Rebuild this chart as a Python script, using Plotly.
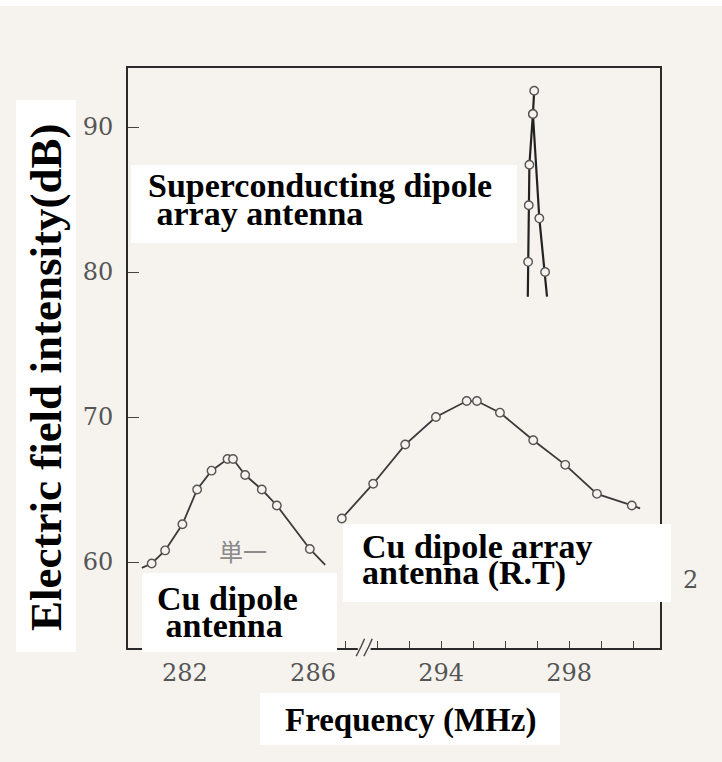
import plotly.graph_objects as go

# ---------------- data ----------------
# Cu dipole antenna (left part of the broken frequency axis)
cu_freq = [280.96, 281.38, 281.92, 282.38, 282.83, 283.33, 283.50, 283.88, 284.40, 284.87, 285.90]
cu_db = [59.9, 60.8, 62.6, 65.0, 66.3, 67.1, 67.1, 66.0, 65.0, 63.9, 60.9]
cu_line_start = (280.65, 59.6)
cu_line_end = (286.38, 59.8)

# Cu dipole array antenna (R.T) (right part of the broken axis)
arr_freq = [290.90, 291.88, 292.88, 293.84, 294.80, 295.12, 295.84, 296.88, 297.88, 298.87, 299.96]
arr_db = [63.0, 65.4, 68.1, 70.0, 71.1, 71.1, 70.3, 68.4, 66.7, 64.7, 63.9]
arr_line_end = (300.22, 63.7)

# Superconducting dipole array antenna (narrow resonance)
sc_freq = [296.72, 296.74, 296.76, 296.87, 296.91, 296.87, 297.07, 297.25]
sc_db = [80.7, 84.6, 87.4, 90.9, 92.5, 90.9, 83.7, 80.0]
sc_line_start = (296.71, 78.3)
sc_line_end = (297.31, 78.3)

# axis
BREAK_SHIFT = 4.0          # 287..293 MHz is cut out of the axis (shown as a break)
BREAK_AT = 287.6           # axis position of the break mark
left_ticks = [281, 282, 283, 284, 285, 286, 287]
right_ticks = [292, 293, 294, 295, 296, 297, 298, 299, 300]
labelled = [282, 286, 294, 298]
y_ticks = [60, 70, 80, 90]
X_RANGE = [280.22, 296.84]
Y_RANGE = [54.07, 94.07]

# ---------------- layout geometry ----------------
W, H = 722, 762
L, R, T, B = 128, 62, 68, 114
PW, PH = W - L - R, H - T - B
PAPER = "#f6f3ee"


def xp(px):
    return (px - L) / PW


def yp(py):
    return (H - B - py) / PH


def shift(vals):
    return [v - BREAK_SHIFT for v in vals]


fig = go.Figure()

line_style = dict(color="#3a3a3a", width=1.8)
marker_style = dict(symbol="circle", size=8.5, color=PAPER, line=dict(color="#555555", width=1.4))

# Cu dipole antenna
fig.add_trace(go.Scatter(
    x=[cu_line_start[0]] + cu_freq + [cu_line_end[0]],
    y=[cu_line_start[1]] + cu_db + [cu_line_end[1]],
    mode="lines", line=line_style, hoverinfo="skip", showlegend=False))
fig.add_trace(go.Scatter(x=cu_freq, y=cu_db, mode="markers", marker=marker_style,
                         showlegend=False, name="Cu dipole antenna"))

# Cu dipole array antenna
fig.add_trace(go.Scatter(
    x=shift(arr_freq + [arr_line_end[0]]),
    y=arr_db + [arr_line_end[1]],
    mode="lines", line=line_style, hoverinfo="skip", showlegend=False))
fig.add_trace(go.Scatter(x=shift(arr_freq), y=arr_db, mode="markers", marker=marker_style,
                         showlegend=False, name="Cu dipole array antenna (R.T)"))

# Superconducting dipole array antenna
fig.add_trace(go.Scatter(
    x=shift([sc_line_start[0]] + sc_freq + [sc_line_end[0]]),
    y=[sc_line_start[1]] + sc_db + [sc_line_end[1]],
    mode="lines", line=dict(color="#222222", width=2.2), hoverinfo="skip", showlegend=False))
fig.add_trace(go.Scatter(x=shift(sc_freq), y=sc_db, mode="markers", marker=marker_style,
                         showlegend=False, name="Superconducting dipole array antenna"))

# ticks
tickvals = left_ticks + shift(right_ticks)
ticktext = [str(t) if t in labelled else "" for t in left_ticks + right_ticks]

tick_font = dict(family="DejaVu Serif", size=24, color="#555555")
fig.update_xaxes(range=X_RANGE, showgrid=False, zeroline=False,
                 showline=True, mirror=True, linecolor="#2a2a2a", linewidth=2,
                 ticks="inside", ticklen=7, tickwidth=1.4, tickcolor="#444444",
                 tickvals=tickvals, ticktext=ticktext, tickfont=tick_font,
                 ticklabelstandoff=2)
fig.update_yaxes(range=Y_RANGE, showgrid=False, zeroline=False,
                 showline=True, mirror=True, linecolor="#2a2a2a", linewidth=2,
                 ticks="inside", ticklen=11, tickwidth=1.4, tickcolor="#444444",
                 tickvals=y_ticks, tickfont=tick_font, ticklabelstandoff=8)

# ---------------- overlays: white label boxes, break mark ----------------
shapes = []


def white_box(x0, y0, x1, y1):
    shapes.append(dict(type="rect", xref="paper", yref="paper", layer="above",
                       x0=xp(x0), x1=xp(x1), y0=yp(y1), y1=yp(y0),
                       fillcolor="white", line=dict(width=0)))


white_box(0, 0, W, 6)          # scan border
white_box(16, 100, 76, 652)     # y title
white_box(131, 165, 517, 243)   # superconducting label
white_box(142, 573, 337, 652)   # Cu dipole label
white_box(343, 524, 671, 602)   # Cu array label
white_box(260, 693, 560, 745)   # x title

# axis break mark
shapes.append(dict(type="rect", xref="x", yref="paper", layer="above",
                   x0=BREAK_AT - 0.2, x1=BREAK_AT + 0.2, y0=-0.006, y1=0.006,
                   fillcolor=PAPER, line=dict(width=0)))
for dx in (-0.12, 0.12):
    shapes.append(dict(type="path", xref="x", yref="paper", layer="above",
                       path=(f"M {BREAK_AT + dx - 0.13},{-0.014} "
                             f"Q {BREAK_AT + dx - 0.02},{-0.002} {BREAK_AT + dx},{0.0} "
                             f"Q {BREAK_AT + dx + 0.02},{0.002} {BREAK_AT + dx + 0.13},{0.016}"),
                       line=dict(color="#444444", width=1.4)))

annotations = []


def text(s, px, py, xanchor="left", size=34, angle=0, color="black", family="Liberation Serif", weight="bold"):
    annotations.append(dict(text=s, xref="paper", yref="paper", x=xp(px), y=yp(py),
                            xanchor=xanchor, yanchor="middle", showarrow=False,
                            textangle=angle,
                            font=dict(family=family, size=size, color=color, weight=weight)))


text("Superconducting dipole", 146, 186)
text(" array antenna", 146, 214)
text("Cu dipole", 155, 598)
text(" antenna", 155, 625)
text("Cu dipole array", 360, 546)
text("antenna (R.T)", 360, 573)
text("Frequency (MHz)", 410, 720, xanchor="center", size=33)
text("Electric field intensity(dB)", 46, 378, xanchor="center", size=45, angle=-90)
text("単一", 243, 550, xanchor="center", size=24, color="#8a8a8a",
     family="Noto Sans CJK JP", weight="normal")
text("2", 690, 580, xanchor="center", size=24, color="#555555",
     family="DejaVu Serif", weight="normal")

fig.update_layout(
    width=W, height=H,
    margin=dict(l=L, r=R, t=T, b=B, pad=0),
    paper_bgcolor=PAPER, plot_bgcolor=PAPER,
    shapes=shapes, annotations=annotations,
    showlegend=False,
)

fig.write_html("out.html")
